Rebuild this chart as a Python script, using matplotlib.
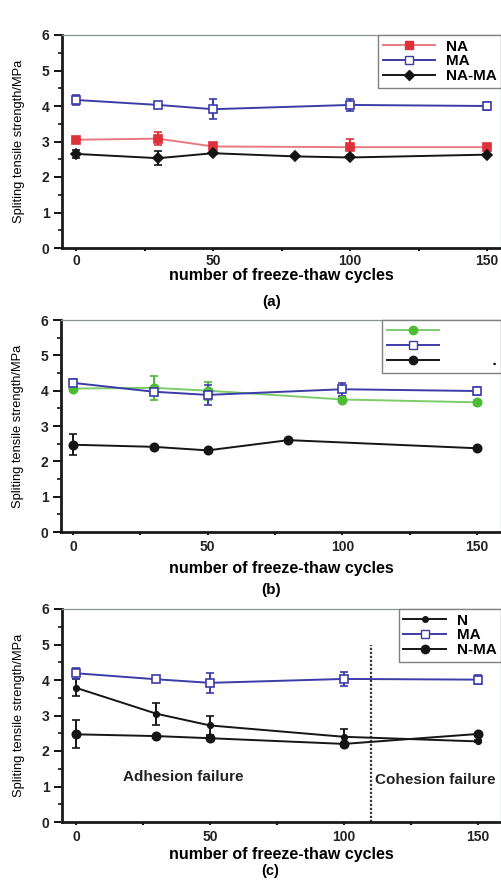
import matplotlib
matplotlib.use("Agg")
import matplotlib.pyplot as plt
from matplotlib.lines import Line2D
from matplotlib.ticker import MultipleLocator

plt.rcParams['font.family'] = ['Liberation Sans', 'DejaVu Sans']

# ---- data ----
# panel (a)
a_na_x = [0, 30, 50, 100, 150]
a_na_y = [3.05, 3.08, 2.86, 2.84, 2.84]
a_na_err = [0.04, 0.19, 0.03, 0.22, 0.04]
a_ma_x = [0, 30, 50, 100, 150]
a_ma_y = [4.17, 4.03, 3.91, 4.03, 4.0]
a_ma_err = [0.13, 0.08, 0.29, 0.18, 0.12]
a_nama_x = [0, 30, 50, 80, 100, 150]
a_nama_y = [2.65, 2.53, 2.67, 2.58, 2.55, 2.63]
a_nama_err = [0.11, 0.2, 0.0, 0.0, 0.0, 0.0]

# panel (b)
b_g_x = [0, 30, 50, 100, 150]
b_g_y = [4.06, 4.08, 4.0, 3.75, 3.67]
b_g_err = [0.05, 0.33, 0.25, 0.07, 0.07]
b_ma_x = [0, 30, 50, 100, 150]
b_ma_y = [4.22, 3.97, 3.88, 4.04, 3.99]
b_ma_err = [0.12, 0.1, 0.28, 0.18, 0.1]
b_k_x = [0, 30, 50, 80, 150]
b_k_y = [2.47, 2.41, 2.31, 2.6, 2.37]
b_k_err = [0.3, 0.0, 0.0, 0.0, 0.0]

# panel (c)
c_n_x = [0, 30, 50, 100, 150]
c_n_y = [3.78, 3.05, 2.72, 2.4, 2.27]
c_n_err = [0.24, 0.31, 0.26, 0.22, 0.03]
c_ma_x = [0, 30, 50, 100, 150]
c_ma_y = [4.19, 4.02, 3.92, 4.03, 4.01]
c_ma_err = [0.16, 0.07, 0.29, 0.2, 0.12]
c_nma_x = [0, 30, 50, 100, 150]
c_nma_y = [2.47, 2.42, 2.36, 2.2, 2.48]
c_nma_err = [0.39, 0.0, 0.0, 0.0, 0.0]

failure_boundary = 110

W, H = 501, 881
fig = plt.figure(figsize=(W / 100, H / 100), dpi=100)


def add_panel(l, r, t, b, x0px, x150px, xpad=1.5, xlabelpad=0):
    ax = fig.add_axes([l / W, 1 - b / H, (r - l) / W, (b - t) / H])
    k = (x150px - x0px) / 150.0
    ax.set_xlim(-(x0px - l) / k, (r - x0px) / k)
    ax.set_ylim(0, 6)
    ax.xaxis.set_major_locator(MultipleLocator(50))
    ax.xaxis.set_minor_locator(MultipleLocator(25))
    ax.yaxis.set_major_locator(MultipleLocator(1))
    ax.yaxis.set_minor_locator(MultipleLocator(0.5))
    ax.tick_params(axis='y', which='major', direction='out', length=6,
                   width=1.3, pad=3)
    ax.tick_params(axis='y', which='minor', direction='out', length=3, width=1.1)
    ax.tick_params(axis='x', which='major', direction='out', length=2.5,
                   width=1.3, pad=xpad)
    ax.tick_params(axis='x', which='minor', direction='out', length=2.5,
                   width=1.5)
    for lab in ax.get_xticklabels() + ax.get_yticklabels():
        lab.set_fontweight('bold')
        lab.set_fontsize(10)
        lab.set_color('#222222')
    for s in ['left', 'bottom']:
        ax.spines[s].set_linewidth(2.0)
        ax.spines[s].set_color('#1a1a1a')
    for s in ['top', 'right']:
        ax.spines[s].set_linewidth(0.9)
        ax.spines[s].set_color('#8a9096')
    ax.set_ylabel("Spliting tensile strength/MPa", fontsize=9.3, labelpad=12)
    ax.set_xlabel("number of freeze-thaw cycles", fontsize=11.5,
                  fontweight='bold', labelpad=xlabelpad)
    return ax


def series(ax, x, y, err, color, lcolor, marker, mfc, ms=6):
    ax.errorbar(x, y, yerr=err, color=lcolor, ecolor=color, elinewidth=1.4,
                capsize=3, capthick=1.4, marker=marker, markersize=ms,
                markerfacecolor=mfc, markeredgecolor=color, markeredgewidth=1.2,
                lw=1.4)


def handle(color, lcolor, marker, mfc, ms=6):
    return Line2D([], [], color=lcolor, lw=1.4, marker=marker, markersize=ms,
                  markerfacecolor=mfc, markeredgecolor=color)


def legend(ax, hs, labels, hl=3.4):
    ax.legend(hs, labels, loc='upper right', bbox_to_anchor=(1.0, 1.0),
              borderaxespad=0, fancybox=False, edgecolor='#808080',
              framealpha=1, prop={'weight': 'bold', 'size': 11},
              handlelength=hl, labelspacing=0.05, borderpad=0.3,
              handletextpad=0.7)


red, red_l = '#e0303a', '#e87a80'
blue = '#3c3ca8'
black = '#151515'
green, green_l = '#4cbc34', '#7ccc6a'

# ---- (a) ----
ax = add_panel(62, 501, 35, 248, 76, 487, xpad=1.5, xlabelpad=0.5)
series(ax, a_na_x, a_na_y, a_na_err, red, red_l, 's', red)
series(ax, a_ma_x, a_ma_y, a_ma_err, blue, blue, 's', 'white')
series(ax, a_nama_x, a_nama_y, a_nama_err, black, black, 'D', black, 5)
legend(ax, [handle(red, red_l, 's', red), handle(blue, blue, 's', 'white'),
            handle(black, black, 'D', black, 5)], ["NA", "MA", "NA-MA"])
fig.text(272 / W, 1 - 302 / H, "(a)", ha='center', va='center',
         fontsize=11, fontweight='bold')

# ---- (b) ----
ax = add_panel(61, 501, 320, 532, 73, 477, xpad=3.5, xlabelpad=5)
series(ax, b_g_x, b_g_y, b_g_err, green, green_l, 'o', green)
series(ax, b_ma_x, b_ma_y, b_ma_err, blue, blue, 's', 'white')
series(ax, b_k_x, b_k_y, b_k_err, black, black, 'o', black)
legend(ax, [handle(green, green_l, 'o', green), handle(blue, blue, 's', 'white'),
            handle(black, black, 'o', black)],
       ["           ", "           ", "          ."])
fig.text(271 / W, 1 - 590 / H, "(b)", ha='center', va='center',
         fontsize=11, fontweight='bold')

# ---- (c) ----
ax = add_panel(62, 501, 609, 822, 76, 478, xpad=3.5, xlabelpad=2)
series(ax, c_n_x, c_n_y, c_n_err, black, black, 'o', black, 4)
series(ax, c_ma_x, c_ma_y, c_ma_err, blue, blue, 's', 'white')
series(ax, c_nma_x, c_nma_y, c_nma_err, black, black, 'o', black, 6)
ax.plot([failure_boundary, failure_boundary], [0, 5.0], color='#333333',
        lw=1.6, ls=(0, (1, 0.8)))
ax.text(40, 1.28, "Adhesion failure", ha='center', va='center',
        fontsize=11, fontweight='bold', color='#222222')
ax.text(failure_boundary + 1.5, 1.19, "Cohesion failure", ha='left',
        va='center', fontsize=11, fontweight='bold', color='#222222')
legend(ax, [handle(black, black, 'o', black, 4), handle(blue, blue, 's', 'white'),
            handle(black, black, 'o', black, 6)], ["N", "MA", "N-MA"], hl=2.8)
fig.text(270 / W, 1 - 871 / H, "(c)", ha='center', va='center',
         fontsize=10.5, fontweight='bold')

fig.savefig("out.png", dpi=100)
